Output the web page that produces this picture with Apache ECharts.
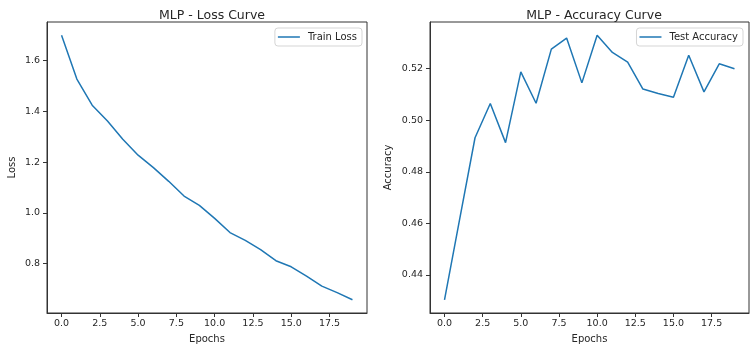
<!DOCTYPE html>
<html>
<head>
<meta charset="utf-8">
<script src="https://cdn.jsdelivr.net/npm/echarts@6/dist/echarts.min.js"></script>
<style>
  html, body { margin: 0; padding: 0; background: #fff; }
  #chart { width: 756px; height: 353px; }
</style>
</head>
<body>
<div id="chart"></div>
<script>
// data
var epochs = [0, 1, 2, 3, 4, 5, 6, 7, 8, 9, 10, 11, 12, 13, 14, 15, 16, 17, 18, 19];
var trainLoss = [1.70, 1.527, 1.424, 1.362, 1.290, 1.227, 1.178, 1.124, 1.066, 1.029, 0.978,
                 0.922, 0.891, 0.855, 0.811, 0.787, 0.750, 0.711, 0.685, 0.657];
var testAccuracy = [0.4303, 0.4618, 0.4932, 0.5065, 0.4913, 0.5188, 0.5066, 0.5276, 0.5319, 0.5145,
                    0.5330, 0.5263, 0.5226, 0.5121, 0.5104, 0.5089, 0.5252, 0.5110, 0.5219, 0.5200];
var xTicks = [0, 2.5, 5, 7.5, 10, 12.5, 15, 17.5];
var lossTicks = [0.8, 1.0, 1.2, 1.4, 1.6];
var accTicks = [0.44, 0.46, 0.48, 0.50, 0.52];

var FONT = 'DejaVu Sans';
var INK = '#262626';
var BLUE = '#1f77b4';

function pairs(xs, ys) {
  return xs.map(function (x, i) { return [x, ys[i]]; });
}

// matplotlib style: 5% margins round the data
function pad(arr) {
  var lo = Math.min.apply(null, arr), hi = Math.max.apply(null, arr);
  var m = (hi - lo) * 0.05;
  return [lo - m, hi + m];
}

function xAxisFor(gridIndex) {
  var r = pad(epochs);
  return {
    type: 'value', gridIndex: gridIndex, min: r[0], max: r[1],
    name: 'Epochs', nameLocation: 'middle', nameGap: 21,
    nameTextStyle: { fontFamily: FONT, fontSize: 10, color: INK },
    splitLine: { show: false },
    axisLine: { show: true, onZero: false, lineStyle: { color: '#333', width: 1 } },
    axisTick: { show: true, length: 4, lineStyle: { color: '#333' }, customValues: xTicks },
    axisLabel: {
      fontFamily: FONT, fontSize: 9.5, color: INK, margin: 6,
      customValues: xTicks,
      formatter: function (v) { return v.toFixed(1); }
    }
  };
}

function yAxisFor(gridIndex, name, data, ticks, digits, gap) {
  var r = pad(data);
  return {
    type: 'value', gridIndex: gridIndex, min: r[0], max: r[1],
    name: name, nameLocation: 'middle', nameGap: gap,
    nameTextStyle: { fontFamily: FONT, fontSize: 10, color: INK },
    splitLine: { show: false },
    axisLine: { show: true, onZero: false, lineStyle: { color: '#333', width: 1 } },
    axisTick: { show: true, length: 4, lineStyle: { color: '#333' }, customValues: ticks },
    axisLabel: {
      fontFamily: FONT, fontSize: 9.5, color: INK, margin: 7,
      customValues: ticks,
      formatter: function (v) { return v.toFixed(digits); }
    }
  };
}

function legendFor(name, right) {
  return {
    data: [name], right: right, top: 28,
    orient: 'vertical',
    padding: [4, 5, 4, 3],
    borderColor: '#d5d5d5', borderWidth: 1, borderRadius: 3,
    backgroundColor: 'rgba(255,255,255,0.8)',
    icon: 'rect', itemWidth: 22, itemHeight: 1.5, itemGap: 0,
    textStyle: { fontFamily: FONT, fontSize: 10, color: INK, padding: [0, 0, 0, 3] }
  };
}

var myChart = echarts.init(document.getElementById('chart'), null, { renderer: 'canvas' });

var option = {
  backgroundColor: '#fff',
  animation: false,
  title: [
    { text: 'MLP - Loss Curve', left: 207, top: 4, textAlign: 'center',
      textStyle: { fontFamily: FONT, fontSize: 12.5, fontWeight: 'normal', color: INK } },
    { text: 'MLP - Accuracy Curve', left: 589, top: 4, textAlign: 'center',
      textStyle: { fontFamily: FONT, fontSize: 12.5, fontWeight: 'normal', color: INK } }
  ],
  legend: [
    legendFor('Train Loss', 394),
    legendFor('Test Accuracy', 13)
  ],
  grid: [
    { left: 47, right: 389, top: 22, bottom: 40, show: true, borderColor: '#333', borderWidth: 1 },
    { left: 430, right: 7, top: 22, bottom: 40, show: true, borderColor: '#333', borderWidth: 1 }
  ],
  xAxis: [xAxisFor(0), xAxisFor(1)],
  yAxis: [
    yAxisFor(0, 'Loss', trainLoss, lossTicks, 1, 30),
    yAxisFor(1, 'Accuracy', testAccuracy, accTicks, 2, 37)
  ],
  series: [
    {
      name: 'Train Loss', type: 'line', xAxisIndex: 0, yAxisIndex: 0,
      data: pairs(epochs, trainLoss),
      symbol: 'none', color: BLUE,
      lineStyle: { color: BLUE, width: 1.5 }
    },
    {
      name: 'Test Accuracy', type: 'line', xAxisIndex: 1, yAxisIndex: 1,
      data: pairs(epochs, testAccuracy),
      symbol: 'none', color: BLUE,
      lineStyle: { color: BLUE, width: 1.5 }
    }
  ]
};

window.onresize = myChart.resize;
myChart.setOption(option);
</script>
</body>
</html>
